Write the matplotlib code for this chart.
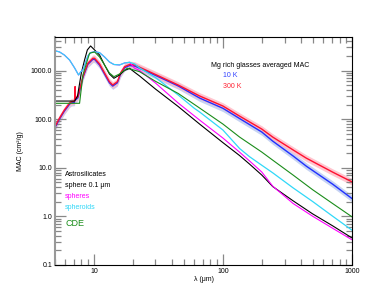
import numpy as np
import matplotlib.pyplot as plt
from matplotlib.ticker import FixedLocator, NullFormatter

plt.rcParams['font.family'] = ['Liberation Sans', 'DejaVu Sans']

# wavelength (um) / MAC (cm^2/g)
lam_red = [4.96, 5.42, 5.91, 6.48, 6.68, 7.09, 7.15, 7.2, 7.52, 8.22, 8.98, 9.82, 10.13,
           11.07, 12.1, 13.2, 14.0, 15.2, 16.1, 17.3, 18.9, 20.7, 30, 45, 66, 100, 134.6,
           200, 243, 351, 443, 708, 1000]
mac_300k = [68, 106, 155, 215, 229, 235, 470, 265, 291, 752, 1420, 1800, 1800,
            1375, 896, 593, 507, 593, 896, 1209, 1340, 1310, 835, 507, 301, 187, 116,
            62.8, 43, 23.2, 15.8, 8.16, 5.14]
mac_10k = [65, 101, 147, 204, 218, 223, 440, 250, 276, 715, 1350, 1710, 1710,
           1306, 851, 563, 482, 563, 851, 1150, 1275, 1245, 800, 485, 273, 168, 103.5,
           54.6, 35.5, 17.4, 10.8, 4.61, 2.33]

lam_blk = [4.96, 7.09, 7.47, 7.99, 8.47, 8.9, 9.43, 10.13, 11.07, 12.1, 13.2, 14.3, 15.8,
           17.3, 18.9, 20.7, 22.6, 30, 45, 66, 100, 134.6, 161, 200, 243, 350, 495, 708, 1000]
mac_blk = [237, 237, 300, 884, 1660, 2670, 3230, 2670, 2100, 1310, 855, 697, 815,
           1010, 1120, 927, 778, 419, 183, 79.5, 33, 17.9, 11.9, 7.1, 4.12, 2.09, 1.13, 0.64, 0.36]

lam_grn = [4.96, 7.75, 7.97, 8.22, 9.26, 10.13, 11.07, 12.1, 13.2, 14.3, 15.8, 17.3, 18.2,
           22.6, 30, 45, 66, 100, 134.6, 200, 243, 350, 495, 708, 1000]
mac_grn = [213, 213, 400, 815, 2285, 2430, 1915, 1310, 896, 752, 855, 1030, 1120,
           954, 605, 340, 170, 79.6, 43, 21.1, 14.4, 7.08, 3.55, 1.84, 0.98]

lam_cyn = [4.96, 5.42, 5.91, 6.48, 7.09, 7.61, 7.9, 8.22, 8.98, 9.43, 10.13, 11.07, 12.1,
           13.2, 14.3, 15.8, 17.3, 18.9, 20.7, 22.6, 30, 45, 60, 66, 100, 134.6, 161, 200,
           243, 350, 495, 708, 1000]
mac_cyn = [2585, 2430, 2100, 1660, 1140, 815, 940, 1030, 2000, 2350, 2460, 2350, 1915,
           1510, 1340, 1311, 1440, 1490, 1375, 1137, 724, 316, 168, 141, 60, 25, 16.9, 11.3,
           7.9, 3.86, 2.03, 1.01, 0.52]

lam_mag = [4.96, 5.42, 5.91, 6.48, 7.09, 7.61, 7.9, 8.22, 8.98, 9.43, 10.13, 11.07, 12.1,
           13.2, 14.3, 15.8, 17.3, 18.9, 20.7, 22.6, 30, 45, 66, 100, 134.6, 161, 200,
           243, 350, 495, 708, 1000]
mac_mag = [2585, 2430, 2100, 1660, 1140, 815, 940, 1030, 2000, 2350, 2460, 2350, 1915,
           1510, 1340, 1311, 1440, 1490, 1120, 1010, 558, 216, 96, 41, 21, 13.8, 8.2,
           4.2, 1.84, 1.01, 0.57, 0.33]

fig = plt.figure(figsize=(3.82, 3.06), dpi=100)
ax = fig.add_axes([0.144, 0.134, 0.7775, 0.746])

band = 1.17
ax.fill_between(lam_red, np.array(mac_10k) / band, np.array(mac_10k) * band,
                color='#b8c8f0', lw=0, alpha=0.8)
ax.fill_between(lam_red, np.array(mac_300k) / band, np.array(mac_300k) * band,
                color='#ffb8c4', lw=0, alpha=0.8)
ax.plot(lam_red, mac_10k, color='#2030ff', lw=1.0)
ax.plot(lam_red, mac_300k, color='#ff1030', lw=1.0)
ax.plot(lam_blk, mac_blk, color='black', lw=0.8)
ax.plot(lam_mag, mac_mag, color='#ff00ff', lw=0.8)
ax.plot(lam_cyn, mac_cyn, color='#30d8f8', lw=0.9)
ax.plot(lam_grn, mac_grn, color='#1a8c1a', lw=0.8)

ax.set_xscale('log')
ax.set_yscale('log')
ax.set_xlim(5, 1000)
ax.set_ylim(0.1, 5000)

ax.xaxis.set_major_locator(FixedLocator([10, 100, 1000]))
ax.set_xticklabels(['10', '100', '1000'])
xmin = [m * d for d in (1, 10, 100) for m in range(2, 10) if 5 <= m * d < 1000]
ax.xaxis.set_minor_locator(FixedLocator(xmin))
ax.xaxis.set_minor_formatter(NullFormatter())
ax.yaxis.set_major_locator(FixedLocator([0.1, 1, 10, 100, 1000]))
ax.set_yticklabels(['0.1', '1.0', '10.0', '100.0', '1000.0'])
ymin = [m * d for d in (0.1, 1, 10, 100, 1000) for m in range(2, 10) if m * d < 5000]
ax.yaxis.set_minor_locator(FixedLocator(ymin))
ax.yaxis.set_minor_formatter(NullFormatter())

ax.tick_params(which='both', direction='in', top=True, right=True, color='#888888',
               labelsize=5, pad=2, width=0.9)
ax.tick_params(which='major', length=8)
ax.tick_params(which='minor', length=4.5)
for s in ax.spines.values():
    s.set_linewidth(0.8)
ax.spines['left'].set_color('#999999')
ax.spines['left'].set_linewidth(1.5)

ax.set_xlabel('λ (μm)', fontsize=5, labelpad=1)
ax.set_ylabel('MAC (cm²/g)', fontsize=5, labelpad=5)

tr = ax.transAxes
ax.text(0.524, 0.876, 'Mg rich glasses averaged MAC', transform=tr, fontsize=5, va='center')
ax.text(0.565, 0.832, '10 K', transform=tr, fontsize=5, color='#3040ff', va='center')
ax.text(0.565, 0.784, '300 K', transform=tr, fontsize=5, color='#ff2030', va='center')
ax.text(0.034, 0.397, 'Astrosilicates', transform=tr, fontsize=5, va='center')
ax.text(0.034, 0.350, 'sphere 0.1 μm', transform=tr, fontsize=5, va='center')
ax.text(0.034, 0.299, 'spheres', transform=tr, fontsize=5, color='#ff00ff', va='center')
ax.text(0.034, 0.253, 'spheroids', transform=tr, fontsize=5, color='#30d8f8', va='center')
ax.text(0.034, 0.183, 'CDE', transform=tr, fontsize=6.5, color='#1a8c1a', va='center')

fig.savefig('out.png', dpi=100)
